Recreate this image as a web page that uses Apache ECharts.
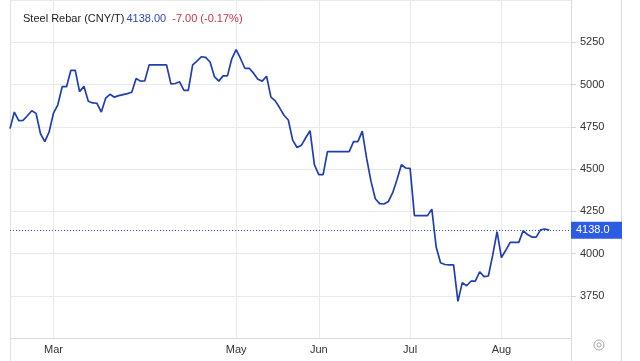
<!DOCTYPE html>
<html>
<head>
<meta charset="utf-8">
<script src="https://cdn.jsdelivr.net/npm/echarts@6/dist/echarts.min.js"></script>
<style>
html,body{margin:0;padding:0;background:#fff;}
#c{width:640px;height:361px;}
</style>
</head>
<body>
<div id="c"></div>
<script>
// Trading days (categories)
const dates = [
 '2022-02-15','2022-02-16','2022-02-17','2022-02-18','2022-02-21','2022-02-22','2022-02-23','2022-02-24','2022-02-25','2022-02-28',
 '2022-03-01','2022-03-02','2022-03-03','2022-03-04','2022-03-07','2022-03-08','2022-03-09','2022-03-10','2022-03-11','2022-03-14',
 '2022-03-15','2022-03-16','2022-03-17','2022-03-18','2022-03-21','2022-03-22','2022-03-23','2022-03-24','2022-03-25','2022-03-28',
 '2022-03-29','2022-03-30','2022-03-31',
 '2022-04-01','2022-04-06','2022-04-07','2022-04-08','2022-04-11','2022-04-12','2022-04-13','2022-04-14','2022-04-15','2022-04-18',
 '2022-04-19','2022-04-20','2022-04-21','2022-04-22','2022-04-25','2022-04-26','2022-04-27','2022-04-28','2022-04-29',
 '2022-05-05','2022-05-06','2022-05-09','2022-05-10','2022-05-11','2022-05-12','2022-05-13','2022-05-16','2022-05-17','2022-05-18',
 '2022-05-19','2022-05-20','2022-05-23','2022-05-24','2022-05-25','2022-05-26','2022-05-27','2022-05-30','2022-05-31',
 '2022-06-01','2022-06-02','2022-06-06','2022-06-07','2022-06-08','2022-06-09','2022-06-10','2022-06-13','2022-06-14','2022-06-15',
 '2022-06-16','2022-06-17','2022-06-20','2022-06-21','2022-06-22','2022-06-23','2022-06-24','2022-06-27','2022-06-28','2022-06-29','2022-06-30',
 '2022-07-01','2022-07-04','2022-07-05','2022-07-06','2022-07-07','2022-07-08','2022-07-11','2022-07-12','2022-07-13','2022-07-14',
 '2022-07-15','2022-07-18','2022-07-19','2022-07-20','2022-07-21','2022-07-22','2022-07-25','2022-07-26','2022-07-27','2022-07-28','2022-07-29',
 '2022-08-01','2022-08-02','2022-08-03','2022-08-04','2022-08-05','2022-08-08','2022-08-09','2022-08-10','2022-08-11','2022-08-12',
 '2022-08-15','2022-08-16','2022-08-17','2022-08-18','2022-08-19','2022-08-22','2022-08-23'
];

// Steel rebar close (CNY/T)
const values = [
 4739,4837,4786,4788,4815,4845,4829,4710,4662,4720,
 4831,4880,4987,4987,5084,5084,4958,4989,4901,4891,
 4889,4837,4919,4942,4925,4934,4940,4946,4954,5036,
 5020,5022,5116,5116,5116,5116,5116,5004,5006,5016,
 4965,4965,5116,5139,5164,5160,5133,5047,5020,5051,
 5051,5152,5207,5154,5096,5096,5067,5031,5020,5049,
 4925,4903,4862,4818,4790,4671,4627,4640,4685,4726,
 4525,4467,4467,4603,4603,4603,4603,4603,4603,4662,
 4662,4724,4564,4428,4324,4295,4293,4307,4360,4438,
 4525,4506,4504,4224,4224,4224,4224,4262,4038,3945,
 3935,3933,3933,3717,3828,3809,3836,3836,3892,3863,
 3867,3990,4130,3976,4019,4066,4066,4066,4136,4112,
 4097,4097,4140,4145,4138
];

// Month ticks
const tickDates = ['2022-03-01','2022-05-05','2022-06-01','2022-07-01','2022-08-01'];
const tickLabels = ['Mar','May','Jun','Jul','Aug'];

const yTicks = { min: 3500, max: 5500, step: 250 };
const lastValue = values[values.length - 1];
const prevValue = values[values.length - 2];
const change = lastValue - prevValue;
const pct = change / prevValue * 100;

const isTick = (idx) => tickDates.indexOf(dates[idx]) >= 0;

const chart = echarts.init(document.getElementById('c'), null, {renderer: 'canvas'});
const font = '"Liberation Sans", Arial, sans-serif';

chart.setOption({
  animation: false,
  backgroundColor: '#fff',
  textStyle: { fontFamily: font },
  title: {
    left: 18, top: 8,
    text: '{a|Steel Rebar (CNY/T)}{b|' + lastValue.toFixed(2) + '}{c|' + change.toFixed(2) + ' (' + pct.toFixed(2) + '%)}',
    textStyle: {
      fontWeight: 'normal',
      rich: {
        a: { color: '#222', fontSize: 11, fontFamily: font, fontWeight: 'normal' },
        b: { color: '#3346b0', fontSize: 11, fontFamily: font, fontWeight: 'normal', padding: [0, 0, 0, 2] },
        c: { color: '#cc3344', fontSize: 11, fontFamily: font, fontWeight: 'normal', padding: [0, 0, 0, 6] }
      }
    }
  },
  grid: { left: 10, right: 69, top: -4, bottom: 23 },
  xAxis: {
    type: 'category',
    data: dates,
    boundaryGap: false,
    axisLine: { show: true, lineStyle: { color: '#dadada', width: 1 } },
    axisTick: { show: false },
    axisLabel: {
      interval: (idx) => isTick(idx),
      formatter: (v) => tickLabels[tickDates.indexOf(v)] || '',
      color: '#333', fontSize: 11, fontFamily: font, margin: 6
    },
    splitLine: {
      show: true,
      interval: (idx) => isTick(idx),
      lineStyle: { color: '#e9e9e9', width: 1 }
    }
  },
  yAxis: {
    type: 'value',
    position: 'right',
    min: yTicks.min, max: yTicks.max, interval: yTicks.step,
    axisLine: { show: false },
    axisTick: { show: true, length: 5, lineStyle: { color: '#d6d6d6' } },
    axisLabel: {
      color: '#333', fontSize: 11, fontFamily: font, margin: 9,
      showMaxLabel: false, showMinLabel: false,
      formatter: (v) => String(v)
    },
    splitLine: { show: true, lineStyle: { color: '#e9e9e9', width: 1 } }
  },
  series: [{
    type: 'line',
    data: values,
    showSymbol: false,
    symbol: 'none',
    lineStyle: { color: '#1f3fb0', width: 1.7 },
    itemStyle: { color: '#1f3fb0' },
    markLine: {
      silent: true,
      symbol: ['none', 'none'],
      data: [{ yAxis: lastValue }],
      lineStyle: { color: '#2f52c8', type: [1, 2], width: 1 },
      label: {
        show: true,
        position: 'end',
        distance: 0,
        formatter: lastValue.toFixed(1),
        color: '#fff',
        backgroundColor: '#2c5be4',
        fontSize: 11,
        fontFamily: font,
        padding: [3, 8, 3, 5],
        width: 38,
        align: 'left'
      }
    }
  }],
  graphic: [
    { type: 'line', shape: { x1: 10.5, y1: 0, x2: 10.5, y2: 361 }, style: { stroke: '#e2e2e2', lineWidth: 1 }, silent: true },
    { type: 'line', shape: { x1: 571.5, y1: 0, x2: 571.5, y2: 361 }, style: { stroke: '#dadada', lineWidth: 1 }, silent: true },
    { type: 'line', shape: { x1: 621.5, y1: 0, x2: 621.5, y2: 361 }, style: { stroke: '#dadada', lineWidth: 1 }, silent: true },
    { type: 'circle', shape: { cx: 599, cy: 345, r: 5 }, style: { fill: 'none', stroke: '#aaa', lineWidth: 1 }, silent: true },
    { type: 'circle', shape: { cx: 599, cy: 345, r: 2 }, style: { fill: 'none', stroke: '#aaa', lineWidth: 1 }, silent: true }
  ]
});
</script>
</body>
</html>
